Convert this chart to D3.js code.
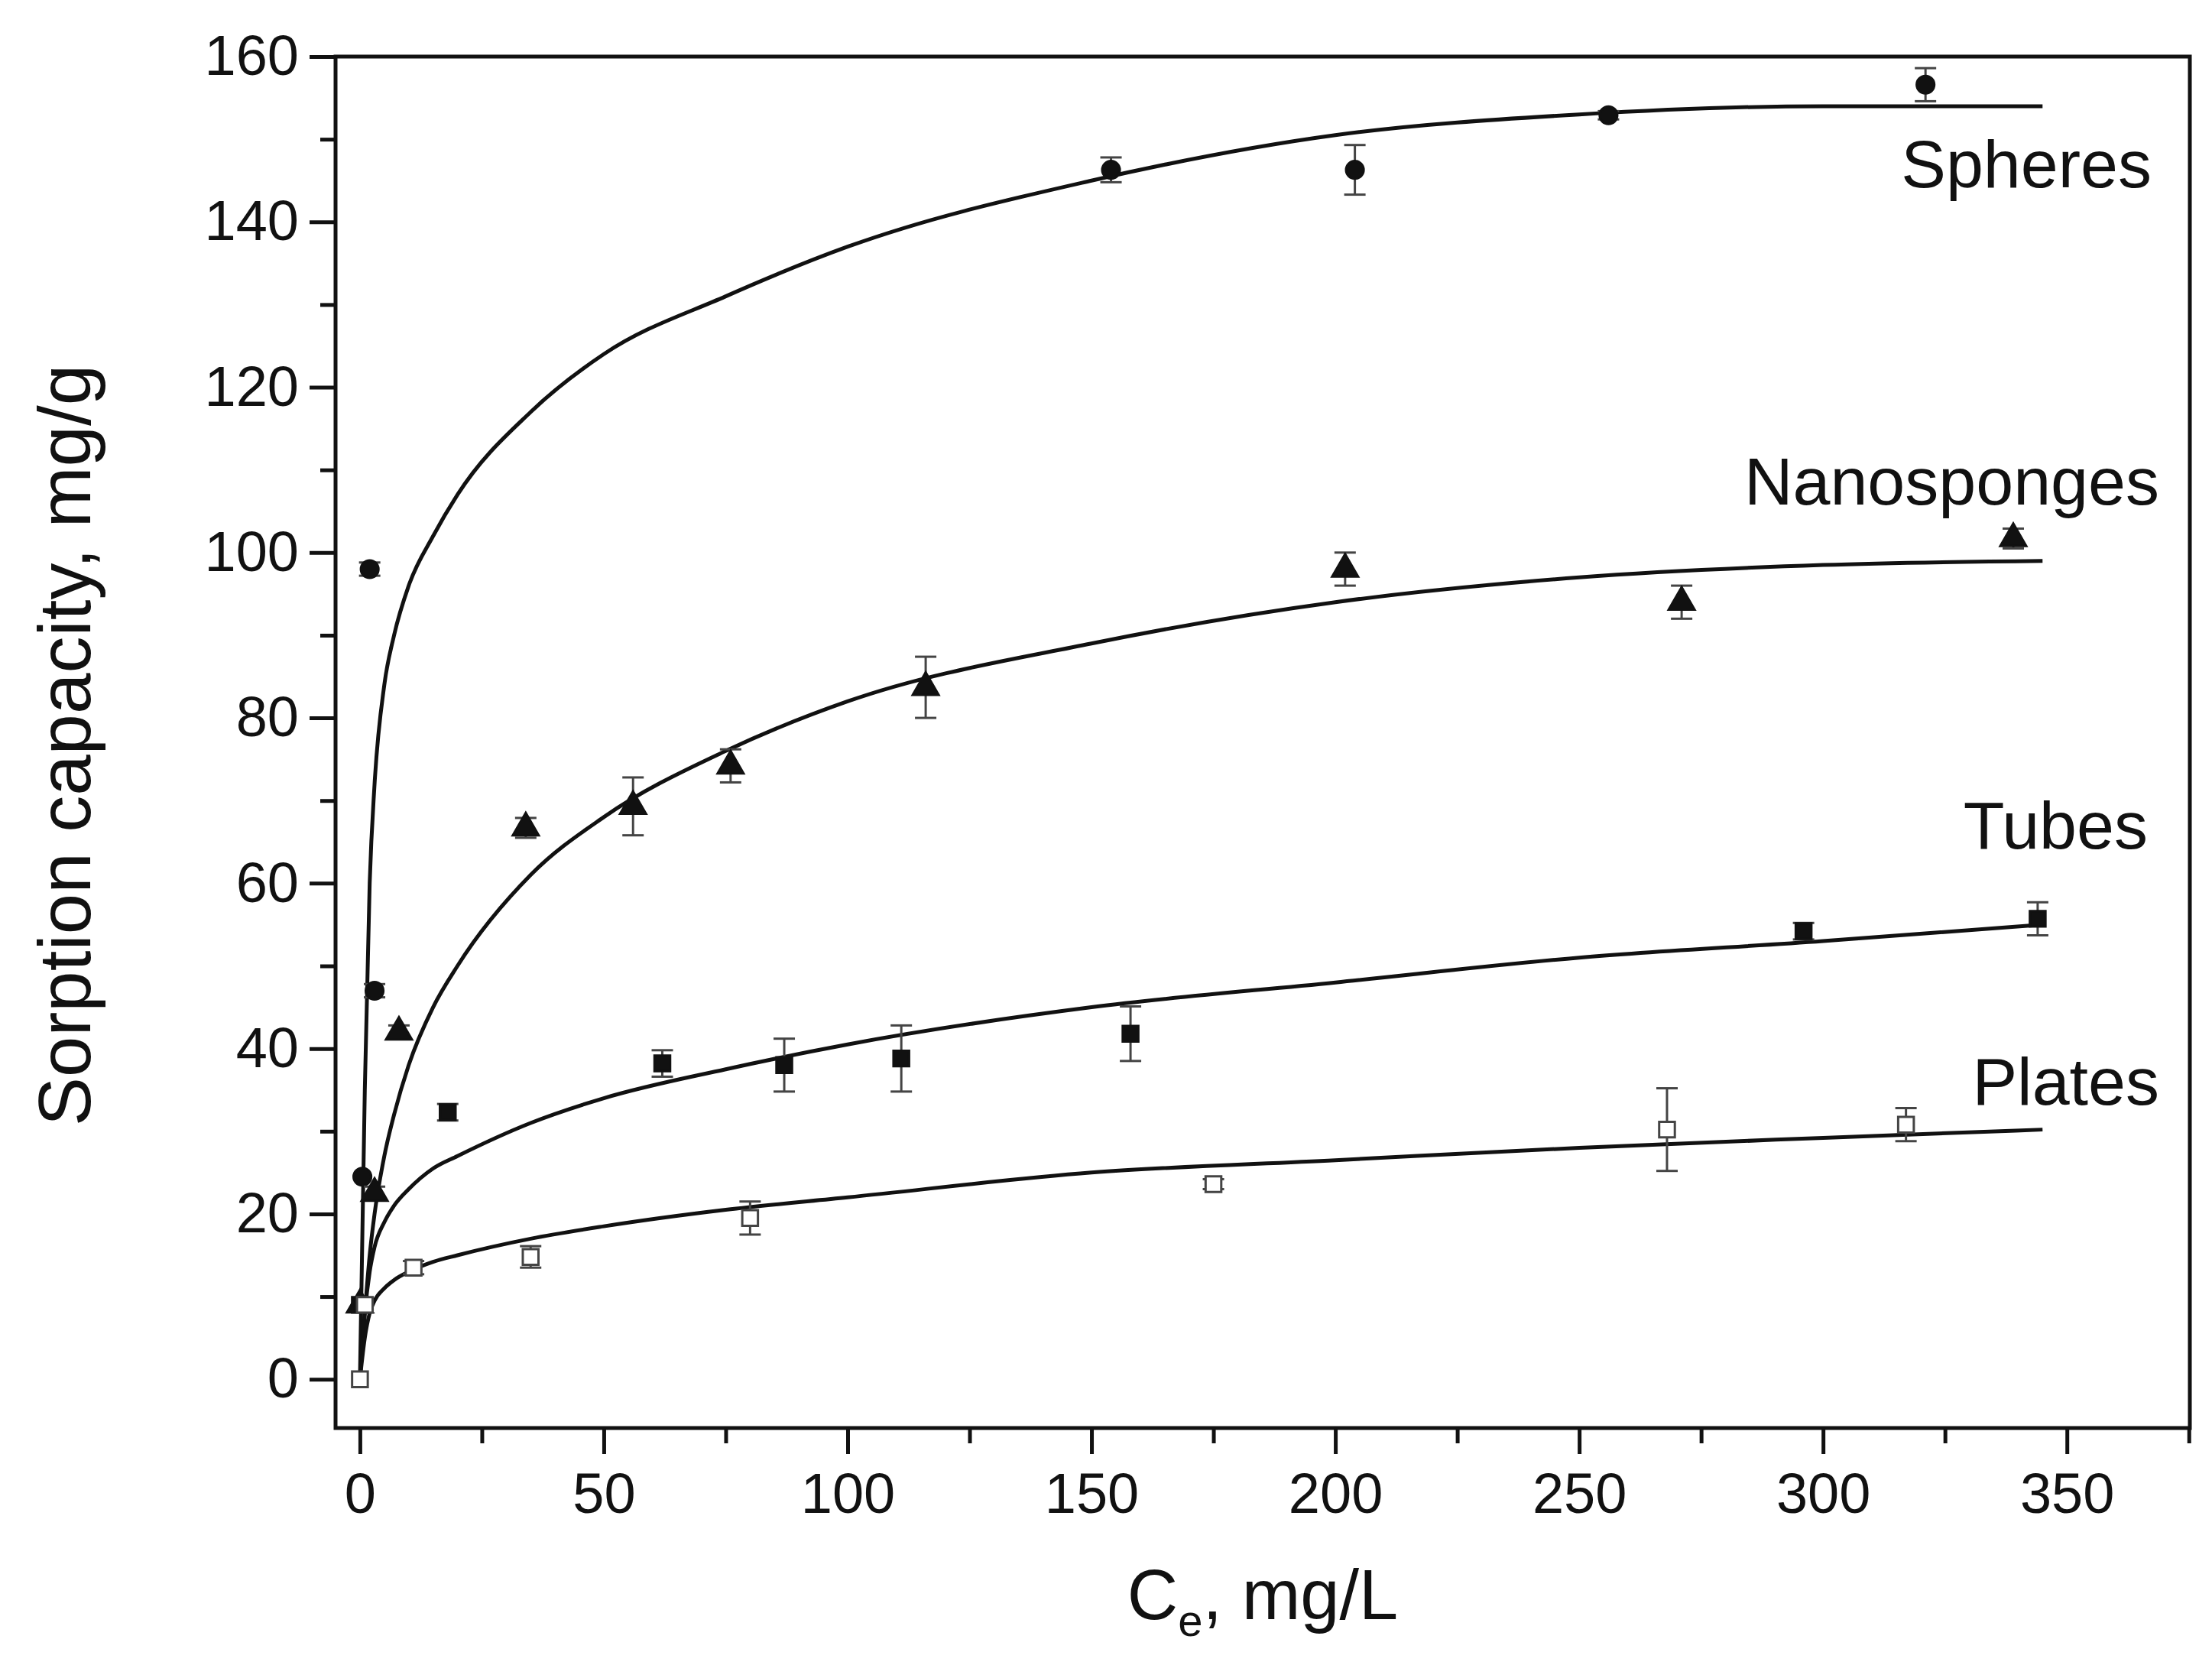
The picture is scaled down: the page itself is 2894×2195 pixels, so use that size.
<!DOCTYPE html>
<html><head><meta charset="utf-8">
<script src="https://cdn.jsdelivr.net/npm/d3@7"></script>
<style>body{margin:0;background:#fff}text{font-family:"Liberation Sans",Arial,sans-serif}</style>
</head><body><svg id="c" width="2894" height="2195"></svg>
<script>
// measured points: [x, y, err]
const spheres = [[0.5,24.5,0],[2,98,0.8],[3,47,0.8],[154,146.3,1.5],[204,146.3,3],[256,152.9,0.5],[321,156.6,2]];
const nanosponges = [[0,9,0],[3,22.5,0.8],[8,42,0.8],[34,66.7,1.2],[56,69.3,3.5],[76,74.2,2],[116,83.7,3.7],[202,98,2],[271,94,2],[339,101.7,1.2]];
const tubes = [[0,9,0],[18,32.3,1],[62,38.2,1.6],[87,38,3.2],[111,38.8,4],[158,41.8,3.3],[296,54.2,1],[344,55.7,2]];
const plates = [[0,0,0],[1,9,0],[11,13.5,0.8],[35,14.8,1.3],[80,19.5,2],[175,23.6,0.6],[268,30.2,5],[317,30.8,2]];

// fitted curves
const fitX = [0,1,2,3,5,7,10,15,20,35,50,75,100,150,200,250,300,345];
const fitSpheres = [0,35,60,72,84,90,96,102,107,117,124,131,137,145,150.5,153,154,154];
const fitNano = [0,8,15,20,27,32,38,45,50,61,68,76,82,89,94,97,98.5,99];
const fitTubes = [0,8,13,16,19,21,23,25.5,27,31,34,37.5,40.5,45,48,51,53,55];
const fitPlates = [0,5,8,9.5,11,12,13,14.2,15,17,18.5,20.5,22,25,26.5,28,29.2,30.2];

const labels = ["Spheres","Nanosponges","Tubes","Plates"];

const svg = d3.select('#c');
const L = 439, R = 2865, T = 74, B = 1868;
const x = d3.scaleLinear().domain([-5, 375.2]).range([L, R]);
const y = d3.scaleLinear().domain([-5.9, 160]).range([B, T]);

// frame
svg.append('rect').attr('x', L).attr('y', T).attr('width', R - L).attr('height', B - T)
  .attr('fill', 'none').attr('stroke', '#111').attr('stroke-width', 5);

// axes
svg.append('g').attr('transform', `translate(0,${B})`)
  .call(d3.axisBottom(x).tickValues(d3.range(0, 351, 50)).tickSize(34).tickPadding(24));
svg.append('g').attr('transform', `translate(0,${B})`)
  .call(d3.axisBottom(x).tickValues(d3.range(25, 376, 50)).tickSize(20).tickFormat(''));
svg.append('g').attr('transform', `translate(${L},0)`)
  .call(d3.axisLeft(y).tickValues(d3.range(0, 161, 20)).tickSize(34).tickPadding(14));
svg.append('g').attr('transform', `translate(${L},0)`)
  .call(d3.axisLeft(y).tickValues(d3.range(10, 160, 20)).tickSize(20).tickFormat(''));
svg.selectAll('.domain').remove();
svg.selectAll('.tick line').attr('stroke', '#111').attr('stroke-width', 5);
svg.selectAll('.tick text').attr('font-size', 74).attr('fill', '#111');

// axis titles
const xt = svg.append('text').attr('x', 1652).attr('y', 2118).attr('text-anchor', 'middle')
  .attr('font-size', 92).attr('fill', '#111');
xt.append('tspan').text('C');
xt.append('tspan').attr('font-size', 58).attr('dy', 22).text('e');
xt.append('tspan').attr('dy', -22).text(', mg/L');
svg.append('text').attr('transform', 'translate(118,975) rotate(-90)').attr('text-anchor', 'middle')
  .attr('font-size', 96).attr('fill', '#111').text('Sorption capacity, mg/g');

// curves
const line = d3.line().x(d => x(d[0])).y(d => y(d[1])).curve(d3.curveMonotoneX);
[fitSpheres, fitNano, fitTubes, fitPlates].forEach(f => {
  svg.append('path').datum(fitX.map((v, i) => [v, f[i]])).attr('d', line)
    .attr('fill', 'none').attr('stroke', '#111').attr('stroke-width', 5);
});

// error bars + markers
const series = [
  {data: spheres, sym: d3.symbolCircle, fill: '#111'},
  {data: nanosponges, sym: d3.symbolTriangle, fill: '#111'},
  {data: tubes, sym: d3.symbolSquare, fill: '#111'},
  {data: plates, sym: d3.symbolSquare, fill: '#fff'}
];
series.forEach(s => {
  const g = svg.append('g');
  s.data.forEach(d => {
    if (d[2] > 0) {
      const cx = x(d[0]), y0 = y(d[1] - d[2]), y1 = y(d[1] + d[2]);
      g.append('line').attr('x1', cx).attr('x2', cx).attr('y1', y0).attr('y2', y1).attr('stroke', '#444').attr('stroke-width', 3);
      [y0, y1].forEach(yy => g.append('line').attr('x1', cx - 14).attr('x2', cx + 14).attr('y1', yy).attr('y2', yy).attr('stroke', '#444').attr('stroke-width', 3));
    }
  });
  g.selectAll('path').data(s.data).enter().append('path')
    .attr('d', d3.symbol().type(s.sym).size(s.sym === d3.symbolTriangle ? 500 : 420))
    .attr('transform', d => `translate(${x(d[0])},${y(d[1])})`)
    .attr('fill', s.fill).attr('stroke', s.fill === '#fff' ? '#444' : '#111').attr('stroke-width', 3);
});

// series labels
const labelPos = [[2815, 245], [2825, 660], [2810, 1110], [2825, 1445]];
labels.forEach((t, i) => svg.append('text').attr('x', labelPos[i][0]).attr('y', labelPos[i][1])
  .attr('text-anchor', 'end').attr('font-size', 88).attr('fill', '#111').text(t));
</script></body></html>
